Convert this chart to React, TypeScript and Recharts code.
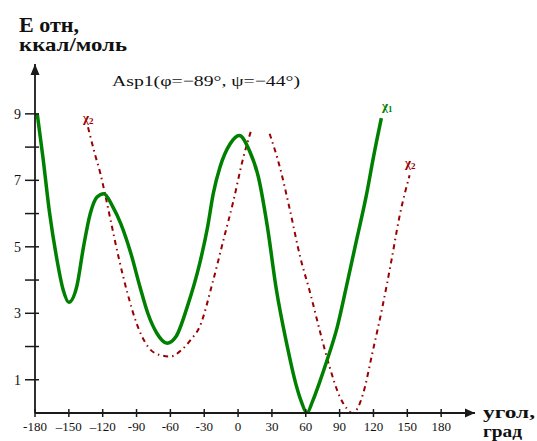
import React from 'react';
import { LineChart, Line, XAxis, YAxis, ReferenceDot } from 'recharts';

// Torsion angle grid and tick captions
const xTicks = [-180, -150, -120, -90, -60, -30, 0, 30, 60, 90, 120, 150, 180];
const xTickLabels = ['-180', '–150', '–120', '-90', '-60', '-30', '0', '30', '60', '90', '120', '150', '180'];
const yTicks = [1, 2, 3, 4, 5, 6, 7, 8, 9];
const yTickLabels = ['1', '', '3', '', '5', '', '7', '', '9'];

// χ1 rotation profile
const chi1Angles = [-178, -173, -167, -161, -155, -150, -143, -137, -131, -125, -119, -111, -104, -95, -87, -80, -72, -63, -55, -45, -34, -27, -22, -16, -7, 1, 10, 18, 26, 34, 43, 51, 56, 61, 66, 72, 79, 88, 96, 105, 114, 120, 127];
const chi1Energies = [9.0, 7.7, 6.0, 4.7, 3.7, 3.33, 3.8, 5.0, 6.0, 6.5, 6.6, 6.2, 5.7, 4.8, 3.8, 3.0, 2.4, 2.1, 2.3, 3.2, 4.5, 5.6, 6.6, 7.4, 8.1, 8.35, 7.9, 7.1, 5.6, 3.7, 2.1, 0.9, 0.35, 0.0, 0.35, 0.9, 1.6, 2.6, 3.8, 5.2, 6.6, 7.7, 8.87];

// χ2 rotation profile, first branch
const chi2aAngles = [-133, -127, -122, -118, -113, -106, -98, -90, -80, -70, -60, -50, -42, -34, -22, -13, -4, 4, 12];
const chi2aEnergies = [8.6, 7.8, 7.2, 6.6, 5.8, 4.7, 3.6, 2.7, 2.0, 1.75, 1.7, 1.9, 2.2, 2.6, 4.0, 5.2, 6.4, 7.6, 8.55];

// χ2 rotation profile, second branch
const chi2bAngles = [28, 37, 46, 55, 64, 73, 81, 90, 96, 101, 106, 111, 119, 128, 136, 143, 152];
const chi2bEnergies = [8.4, 7.4, 6.1, 4.7, 3.6, 2.4, 1.4, 0.5, 0.15, 0.0, 0.15, 0.6, 1.8, 3.2, 4.6, 5.9, 7.15];

const toRows = (angles: number[], energies: number[]) =>
  angles.map((angle, i) => ({ angle, energy: energies[i] }));

const chi1Data = toRows(chi1Angles, chi1Energies);
const chi2aData = toRows(chi2aAngles, chi2aEnergies);
const chi2bData = toRows(chi2bAngles, chi2bEnergies);

const GREEN = '#008000';
const RED = '#990000';
const AXIS = '#1a1a1a';
const SERIF = '"Liberation Serif", "Times New Roman", serif';

// Cross-shaped tick mark on the angle axis with its caption underneath
const makeXTick = (label: string) => (p: any) => (
  <g>
    <line x1={p.cx} x2={p.cx} y1={p.cy - 4} y2={p.cy + 4} stroke={AXIS} strokeWidth={1.5} />
    <text x={p.cx} y={p.cy + 18} textAnchor="middle" fontSize={13} fill="#111">
      {label}
    </text>
  </g>
);

// Tick mark on the energy axis, reaching mostly to the left, with optional caption
const makeYTick = (label: string) => (p: any) => (
  <g>
    <line x1={p.cx - 10} x2={p.cx + 4} y1={p.cy} y2={p.cy} stroke={AXIS} strokeWidth={1.5} />
    <text x={p.cx - 14} y={p.cy + 5} textAnchor="end" fontSize={14} fill="#111">
      {label}
    </text>
  </g>
);

const RightArrow = (p: any) => (
  <path d={`M${p.cx},${p.cy} L${p.cx - 10},${p.cy - 4.5} L${p.cx - 10},${p.cy + 4.5} Z`} fill={AXIS} />
);
const UpArrow = (p: any) => (
  <path d={`M${p.cx},${p.cy} L${p.cx - 4.5},${p.cy + 11} L${p.cx + 4.5},${p.cy + 11} Z`} fill={AXIS} />
);

// Small absolutely placed caption box, sized to its own text only
const Note = ({ left, top, width, height, children }: any) => (
  <svg
    width={width}
    height={height}
    style={{ position: 'absolute', left, top, overflow: 'visible', pointerEvents: 'none' }}
  >
    {children}
  </svg>
);

export default function App() {
  return (
    <div style={{ position: 'absolute', left: 0, top: 0, width: 537, height: 441, background: '#fff' }}>
      <LineChart width={537} height={441} margin={{ top: 64, right: 62, bottom: 0, left: 0 }}>
        <XAxis
          type="number"
          dataKey="angle"
          domain={[-180, 210]}
          allowDataOverflow
          height={28}
          tick={false}
          tickLine={false}
          axisLine={{ stroke: AXIS, strokeWidth: 1.8 }}
        />
        <YAxis
          type="number"
          domain={[0, 10.5]}
          allowDataOverflow
          width={35}
          tick={false}
          tickLine={false}
          axisLine={{ stroke: AXIS, strokeWidth: 1.8 }}
        />
        <Line
          data={chi2aData}
          dataKey="energy"
          type="monotone"
          stroke={RED}
          strokeWidth={2}
          strokeDasharray="5 4 1.5 4"
          dot={false}
          isAnimationActive={false}
        />
        <Line
          data={chi2bData}
          dataKey="energy"
          type="monotone"
          stroke={RED}
          strokeWidth={2}
          strokeDasharray="5 4 1.5 4"
          dot={false}
          isAnimationActive={false}
        />
        <Line
          data={chi1Data}
          dataKey="energy"
          type="monotone"
          stroke={GREEN}
          strokeWidth={3.5}
          dot={false}
          isAnimationActive={false}
        />
        {xTicks.map((v, i) => (
          <ReferenceDot key={`xt${i}`} x={v} y={0} r={0} ifOverflow="visible" shape={makeXTick(xTickLabels[i])} />
        ))}
        {yTicks.map((v, i) => (
          <ReferenceDot key={`yt${i}`} x={-180} y={v} r={0} ifOverflow="visible" shape={makeYTick(yTickLabels[i])} />
        ))}
        <ReferenceDot x={210} y={0} r={0} ifOverflow="visible" shape={RightArrow} />
        <ReferenceDot x={-180} y={10.5} r={0} ifOverflow="visible" shape={UpArrow} />
      </LineChart>

      <Note left={19} top={12} width={112} height={44}>
        <g fontFamily={SERIF} fontWeight="bold" fill="#111">
          <text x={0} y={20} fontSize={20} textLength={60} lengthAdjust="spacingAndGlyphs">E отн,</text>
          <text x={0} y={39} fontSize={19} textLength={108} lengthAdjust="spacingAndGlyphs">ккал/моль</text>
        </g>
      </Note>
      <Note left={483} top={402} width={54} height={39}>
        <g fontFamily={SERIF} fontWeight="bold" fill="#111">
          <text x={0} y={16} fontSize={16} textLength={52} lengthAdjust="spacingAndGlyphs">угол,</text>
          <text x={0} y={35} fontSize={16} textLength={39} lengthAdjust="spacingAndGlyphs">град</text>
        </g>
      </Note>
      <Note left={112} top={70} width={190} height={22}>
        <text x={0} y={16} fontFamily={SERIF} fontSize={15} fill="#111" textLength={188} lengthAdjust="spacingAndGlyphs">
          Asp1(φ=−89°, ψ=−44°)
        </text>
      </Note>
      <Note left={382} top={98} width={20} height={16}>
        <text x={0} y={12} fontFamily={SERIF} fontWeight="bold" fontSize={13} fill={GREEN}>
          χ<tspan fontSize={9} dy={2}>1</tspan>
        </text>
      </Note>
      <Note left={83} top={110} width={20} height={16}>
        <text x={0} y={12} fontFamily={SERIF} fontWeight="bold" fontSize={13} fill={RED}>
          χ<tspan fontSize={9} dy={2}>2</tspan>
        </text>
      </Note>
      <Note left={405} top={155} width={20} height={16}>
        <text x={0} y={12} fontFamily={SERIF} fontWeight="bold" fontSize={13} fill={RED}>
          χ<tspan fontSize={9} dy={2}>2</tspan>
        </text>
      </Note>
    </div>
  );
}
